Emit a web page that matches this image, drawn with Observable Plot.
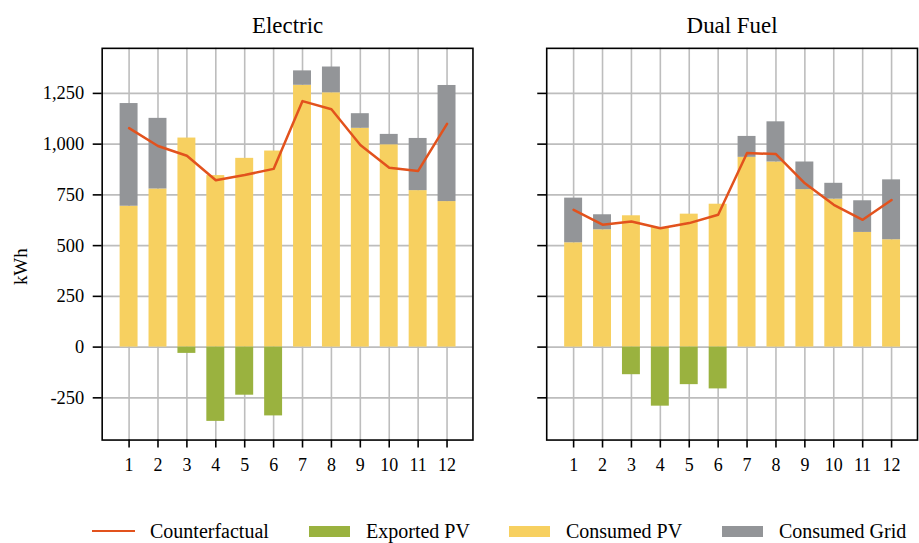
<!DOCTYPE html>
<html>
<head>
<meta charset="utf-8">
<script src="https://cdn.jsdelivr.net/npm/d3@7"></script>
<script src="https://cdn.jsdelivr.net/npm/@observablehq/plot@0.6"></script>
<style>
  html, body { margin: 0; padding: 0; background: #fff; overflow: hidden; width: 919px; height: 543px; }
  #chart { position: absolute; left: 0; top: 0; }
  #legend { position: absolute; left: 0; top: 519px; width: 919px; height: 24px; font-family: "Liberation Serif", serif; font-size: 20px; color: #000; }
  .item { position: absolute; top: 0; height: 24px; display: flex; align-items: center; white-space: nowrap; }
  .sw { display: inline-block; width: 41px; height: 11px; margin-right: 16px; }
  .ln { display: inline-block; width: 43px; height: 2.5px; margin-right: 15px; }
</style>
</head>
<body>
<div id="chart"></div>
<div id="legend"></div>
<script>
const months = [1, 2, 3, 4, 5, 6, 7, 8, 9, 10, 11, 12];
const panels = ["Electric", "Dual Fuel"];
const seriesNames = ["Counterfactual", "Exported PV", "Consumed PV", "Consumed Grid"];
const seriesColors = ["#e2521d", "#9ab23f", "#f7d060", "#939598"];
const yTicks = [-250, 0, 250, 500, 750, 1000, 1250];

const electricConsumedPV = [694, 779, 1030, 845, 930, 966, 1290, 1253, 1078, 997, 771, 717];
const electricConsumedGrid = [506, 348, 0, 0, 0, 0, 71, 127, 72, 51, 257, 572];
const electricExportedPV = [0, 0, -31, -366, -237, -339, 0, 0, 0, 0, 0, 0];
const electricCounterfactual = [1079, 991, 943, 822, 848, 878, 1212, 1172, 996, 884, 868, 1100];

const dualConsumedPV = [514, 578, 647, 589, 655, 704, 935, 912, 776, 729, 565, 529];
const dualConsumedGrid = [220, 74, 0, 0, 0, 0, 103, 198, 136, 78, 156, 295];
const dualExportedPV = [0, 0, -136, -291, -185, -206, 0, 0, 0, 0, 0, 0];
const dualCounterfactual = [676, 603, 619, 586, 611, 652, 956, 951, 807, 701, 627, 725];

const panelData = {
  "Electric": {pv: electricConsumedPV, grid: electricConsumedGrid, exp: electricExportedPV, cf: electricCounterfactual},
  "Dual Fuel": {pv: dualConsumedPV, grid: dualConsumedGrid, exp: dualExportedPV, cf: dualCounterfactual}
};

const bars = [];
const lines = [];
for (const p of panels) {
  const d = panelData[p];
  months.forEach((m, i) => {
    bars.push({panel: p, month: m, series: "Consumed PV", value: d.pv[i]});
    if (d.grid[i] !== 0) bars.push({panel: p, month: m, series: "Consumed Grid", value: d.grid[i]});
    if (d.exp[i] !== 0) bars.push({panel: p, month: m, series: "Exported PV", value: d.exp[i]});
    lines.push({panel: p, month: m, value: d.cf[i]});
  });
}

const fmt = d => d.toLocaleString("en-US");

const chart = Plot.plot({
  width: 922,
  height: 505,
  marginLeft: 102,
  marginRight: 1,
  marginTop: 48,
  marginBottom: 64,
  style: {fontFamily: "Liberation Serif, serif", fontSize: "18px", color: "#000", background: "#fff"},
  fx: {domain: panels, paddingInner: 0.1657, paddingOuter: 0, label: null},
  x: {domain: months, paddingInner: 0.39, paddingOuter: 0.585, label: null},
  y: {domain: [-458, 1472], label: null},
  color: {domain: seriesNames, range: seriesColors},
  marks: [
    Plot.gridX(months, {x: d => d, stroke: "#bdbdbd", strokeOpacity: 1, strokeWidth: 1.6, facetAnchor: null}),
    Plot.gridY(yTicks, {y: d => d, stroke: "#bdbdbd", strokeOpacity: 1, strokeWidth: 1.6, facetAnchor: null}),
    Plot.barY(bars, {fx: "panel", x: "month", y: "value", fill: "series", order: ["Consumed PV", "Consumed Grid", "Exported PV"]}),
    Plot.line(lines, {fx: "panel", x: "month", y: "value", stroke: seriesColors[0], strokeWidth: 2.5}),
    Plot.frame({stroke: "#000", strokeWidth: 1.6}),
    Plot.axisY({ticks: yTicks, tickSize: 9, tickFormat: null, text: null, stroke: "#000", strokeWidth: 1.6, label: null, facetAnchor: null}),
    Plot.axisY({ticks: yTicks, tickSize: 0, tickPadding: 18, tickFormat: fmt, fontSize: 18.5, label: null, facetAnchor: "left"}),
    Plot.axisX({tickSize: 8, tickPadding: 10, stroke: "#000", strokeWidth: 1.6, fontSize: 18, label: null, facetAnchor: null}),
    Plot.axisFx({anchor: "top", tickSize: 0, tickPadding: 15, fontSize: 23, label: null}),
    Plot.text(["kWh"], {text: d => d, fx: () => "Electric", y: () => 396, frameAnchor: "left", textAnchor: "middle", dx: -82, rotate: -90, fontSize: 19})
  ]
});
document.getElementById("chart").appendChild(chart);

const legendPos = [
  {x: 92, kind: "line"},
  {x: 309, kind: "rect"},
  {x: 509, kind: "rect"},
  {x: 722, kind: "rect"}
];
const legend = document.getElementById("legend");
seriesNames.forEach((name, i) => {
  const item = document.createElement("div");
  item.className = "item";
  item.style.left = legendPos[i].x + "px";
  const sw = document.createElement("span");
  sw.className = legendPos[i].kind === "line" ? "ln" : "sw";
  sw.style.background = seriesColors[i];
  item.appendChild(sw);
  const t = document.createElement("span");
  t.textContent = name;
  item.appendChild(t);
  legend.appendChild(item);
});
</script>
</body>
</html>
